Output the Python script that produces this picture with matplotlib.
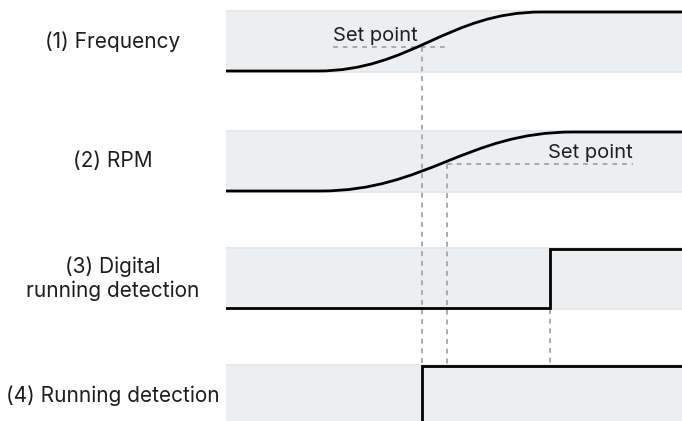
import numpy as np
import matplotlib
matplotlib.use("Agg")
import matplotlib.pyplot as plt
from matplotlib.path import Path
from matplotlib.patches import PathPatch

plt.rcParams['font.family'] = ['Inter', 'DejaVu Sans']

# time axis 0..100, signal level 0..1 inside each lane
labels = ["(1) Frequency", "(2) RPM", "(3) Digital\nrunning detection", "(4) Running detection"]

# ramp signals: start time, end time
freq_ramp = [20.0, 69.3]
rpm_ramp = [20.6, 76.1]
freq_setpoint = 0.41
rpm_setpoint = 0.45
freq_cross = 43.0      # time where frequency passes set point
rpm_cross = 48.5       # time where rpm passes set point
digital_on = 71.0      # step of digital running detection
running_on = 43.0      # step of running detection

# set point guide extents (time)
freq_sp_span = [23.5, 48.5]
rpm_sp_span = [48.5, 89.3]

# lane geometry (y axis inverted, pixel-like units)
lane_top = [11, 131, 248, 365]
lane_h = 61

band_col = "#eceff2"
edge_col = "#e3e5e8"
guide_col = "#aaaaaa"
text_col = "#1e1e1e"

fig = plt.figure(figsize=(6.82, 4.21), dpi=100)
ax = fig.add_axes([226 / 682, 0, 1 - 226 / 682, 1])
ax.set_xlim(0, 100)
ax.set_ylim(421, 0)
ax.axis("off")


def lvl(i, v):
    # level 0 -> lane bottom, 1 -> lane top
    return lane_top[i] + lane_h - 1 - v * (lane_h - 2)


for i, top in enumerate(lane_top):
    ax.fill_between([0, 100], top, top + lane_h, color=band_col, lw=0, zorder=0)
    ax.plot([0, 100], [top, top], color=edge_col, lw=1.2, zorder=1)
    ax.plot([0, 100], [top + lane_h, top + lane_h], color=edge_col, lw=1.2, zorder=1)
    fig.text(112.5 / 682, 1 - (top + lane_h / 2) / 421, labels[i], ha="center", va="center",
             fontsize=15, color=text_col, linespacing=1.2)


def ramp(i, t0, t1, k=0.42):
    d = (t1 - t0) * k
    y0, y1 = lvl(i, 0), lvl(i, 1)
    verts = [(0, y0), (t0, y0), (t0 + d, y0), (t1 - d, y1), (t1, y1), (100, y1)]
    codes = [Path.MOVETO, Path.LINETO, Path.CURVE4, Path.CURVE4, Path.CURVE4, Path.LINETO]
    ax.add_patch(PathPatch(Path(verts, codes), fill=False, lw=2, ec="black",
                           capstyle="butt", joinstyle="round", zorder=4))


ramp(0, *freq_ramp)
ramp(1, *rpm_ramp)

# steps
ax.plot([0, digital_on, digital_on, 100], [lvl(2, 0), lvl(2, 0), lvl(2, 1), lvl(2, 1)],
        color="black", lw=2, zorder=4, solid_joinstyle="miter")
ax.plot([running_on, running_on, 100], [lane_top[3] + lane_h + 5, lvl(3, 1), lvl(3, 1)],
        color="black", lw=2, zorder=4, solid_joinstyle="miter")

dash = dict(color=guide_col, lw=1.4, ls=(0, (2.5, 2.5)), zorder=3)
# set point guides
ax.plot(freq_sp_span, [lvl(0, freq_setpoint)] * 2, **dash)
ax.plot(rpm_sp_span, [lvl(1, rpm_setpoint)] * 2, **dash)
ax.plot([freq_cross, freq_cross], [lvl(0, freq_setpoint), lane_top[3]], **dash)
ax.plot([rpm_cross, rpm_cross], [lvl(1, rpm_setpoint), lane_top[3]], **dash)
ax.plot([digital_on, digital_on], [lane_top[2] + lane_h, lane_top[3]], **dash)

ax.text(freq_sp_span[0], lvl(0, freq_setpoint) - 2, "Set point", ha="left", va="bottom",
        fontsize=14.5, color=text_col)
ax.text(rpm_sp_span[1], lvl(1, rpm_setpoint) - 2, "Set point", ha="right", va="bottom",
        fontsize=14.5, color=text_col)

fig.savefig("out.png", dpi=100)
